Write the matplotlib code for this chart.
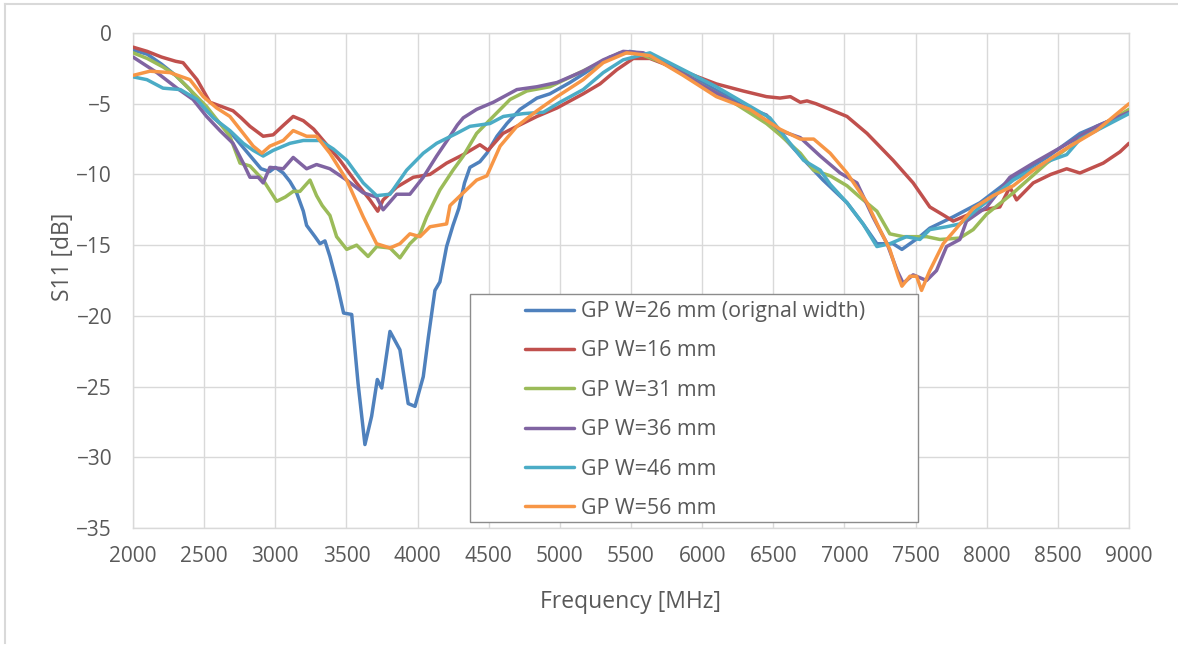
import matplotlib
matplotlib.use("Agg")
import matplotlib.pyplot as plt
from matplotlib.patches import Rectangle
from matplotlib.lines import Line2D

# ---------------- data ----------------
f_w26 = [2000, 2100, 2200, 2300, 2400, 2500, 2600, 2700, 2800, 2900, 2960, 3000, 3056, 3103, 3150,
         3197, 3220, 3279, 3314, 3349, 3384, 3431, 3480, 3537, 3582, 3630, 3677, 3717, 3748, 3806,
         3876, 3934, 3982, 4040, 4076, 4122, 4157, 4204, 4228, 4249, 4290, 4330, 4368, 4438, 4487, 4558,
         4628, 4720, 4839, 4930, 5071, 5211, 5352, 5492, 5633, 5865, 6000, 6200, 6400, 6547, 6737,
         6850, 7018, 7131, 7228, 7342, 7404, 7530, 7600, 7764, 7953, 8187, 8422, 8656, 9000]
s_w26 = [-1.2, -1.5, -2.2, -3.0, -4.0, -5.3, -6.3, -7.2, -8.4, -9.6, -9.8, -9.5, -9.9, -10.5, -11.3,
         -12.6, -13.6, -14.4, -14.9, -14.7, -15.8, -17.6, -19.8, -19.9, -24.8, -29.1, -27.1, -24.5, -25.1, -21.1,
         -22.4, -26.2, -26.4, -24.3, -21.5, -18.2, -17.6, -15.1, -14.3, -13.6, -12.4, -10.6, -9.5, -9.1, -8.5, -7.3,
         -6.4, -5.4, -4.6, -4.3, -3.5, -2.6, -1.7, -1.3, -1.6, -2.9, -3.5, -4.6, -5.9, -7.1, -9.2,
         -10.4, -12.0, -13.5, -14.9, -14.9, -15.3, -14.4, -13.8, -13.0, -12.0, -10.2, -8.8, -7.1, -5.6]

f_w16 = [2000, 2100, 2200, 2300, 2352, 2450, 2541, 2623, 2703, 2760, 2822, 2915, 2985, 3060, 3126,
         3197, 3270, 3337, 3454, 3571, 3665, 3720, 3758, 3853, 3970, 4087, 4204, 4321, 4438, 4495,
         4600, 4698, 4839, 4980, 5164, 5282, 5400, 5516, 5633, 5865, 6100, 6288, 6452, 6547, 6620,
         6690, 6737, 6800, 6898, 7018, 7159, 7342, 7483, 7600, 7700, 7764, 7858, 7974, 8092, 8163,
         8210, 8327, 8450, 8562, 8655, 8819, 8937, 9000]
s_w16 = [-1.0, -1.3, -1.7, -2.0, -2.1, -3.3, -4.9, -5.2, -5.5, -6.0, -6.6, -7.3, -7.2, -6.5, -5.9,
         -6.2, -6.8, -7.6, -9.0, -10.6, -11.8, -12.6, -11.8, -10.9, -10.2, -10.0, -9.2, -8.6, -7.9, -8.3,
         -7.1, -6.6, -5.9, -5.3, -4.3, -3.6, -2.6, -1.8, -1.8, -2.7, -3.6, -4.1, -4.5, -4.6, -4.5,
         -4.9, -4.8, -5.0, -5.4, -5.9, -7.1, -9.0, -10.6, -12.3, -12.9, -13.3, -12.9, -12.5, -12.3, -10.9,
         -11.8, -10.6, -10.0, -9.6, -9.9, -9.2, -8.4, -7.8]

f_w31 = [2000, 2100, 2211, 2300, 2400, 2517, 2611, 2681, 2752, 2822, 2915, 3010, 3070, 3126, 3173,
         3244, 3290, 3330, 3384, 3431, 3502, 3572, 3652, 3713, 3806, 3876, 3946, 4017, 4064, 4157,
         4249, 4321, 4415, 4532, 4650, 4768, 4930, 5118, 5282, 5422, 5540, 5725, 5984, 6218, 6452,
         6547, 6690, 6784, 6900, 7018, 7108, 7228, 7319, 7413, 7483, 7577, 7671, 7811, 7905, 8000,
         8187, 8422, 8656, 9000]
s_w31 = [-1.4, -1.8, -2.4, -3.0, -4.0, -5.2, -6.4, -7.3, -9.2, -9.4, -10.4, -11.9, -11.6, -11.2, -11.2,
         -10.4, -11.5, -12.2, -12.9, -14.4, -15.3, -15.0, -15.8, -15.1, -15.2, -15.9, -14.9, -14.2, -13.0, -11.1,
         -9.7, -8.7, -7.1, -5.9, -4.7, -4.1, -3.8, -2.9, -2.1, -1.4, -1.4, -2.1, -3.6, -4.9, -6.4,
         -7.2, -8.5, -9.7, -10.1, -10.8, -11.6, -12.6, -14.2, -14.4, -14.4, -14.4, -14.6, -14.5, -13.9, -12.8,
         -11.3, -9.2, -7.5, -5.4]

f_w36 = [2000, 2168, 2309, 2422, 2517, 2611, 2703, 2775, 2822, 2880, 2915, 2962, 3056, 3126, 3220,
         3290, 3384, 3502, 3618, 3712, 3758, 3853, 3946, 4040, 4134, 4228, 4280, 4321, 4415, 4532, 4698,
         4839, 4980, 5164, 5305, 5445, 5586, 5772, 6000, 6241, 6452, 6547, 6690, 6830, 6970, 7088,
         7200, 7300, 7370, 7413, 7483, 7577, 7647, 7718, 7811, 7858, 8000, 8163, 8327, 8537, 8772,
         9000]
s_w36 = [-1.7, -2.8, -3.9, -4.7, -5.9, -6.9, -7.8, -9.2, -10.2, -10.2, -10.6, -9.5, -9.6, -8.8, -9.6,
         -9.3, -9.6, -10.4, -11.3, -11.6, -12.5, -11.4, -11.4, -10.2, -8.7, -7.3, -6.5, -6.0, -5.4, -4.9, -4.0,
         -3.8, -3.5, -2.7, -1.9, -1.3, -1.4, -2.3, -3.7, -5.0, -5.8, -6.9, -7.4, -8.7, -9.9, -10.6,
         -13.0, -14.9, -16.8, -17.7, -17.1, -17.5, -16.8, -15.1, -14.6, -13.3, -12.3, -10.2, -9.2, -8.0, -6.6,
         -5.6]

f_w46 = [2000, 2098, 2211, 2333, 2450, 2564, 2681, 2775, 2845, 2915, 2985, 3103, 3197, 3314, 3408,
         3502, 3618, 3712, 3806, 3923, 4040, 4134, 4274, 4368, 4509, 4603, 4744, 4885, 5000, 5164,
         5305, 5445, 5633, 5867, 6100, 6288, 6476, 6547, 6713, 6830, 6900, 7018, 7131, 7228, 7319,
         7436, 7530, 7600, 7718, 7811, 7953, 8187, 8422, 8562, 8656, 9000]
s_w46 = [-3.1, -3.3, -3.9, -4.0, -4.7, -6.0, -6.9, -7.8, -8.3, -8.7, -8.3, -7.8, -7.6, -7.6, -8.2,
         -9.0, -10.6, -11.5, -11.4, -9.7, -8.5, -7.8, -7.1, -6.6, -6.4, -5.9, -5.7, -5.6, -4.9, -4.0,
         -2.8, -1.9, -1.4, -2.6, -3.8, -4.9, -6.0, -6.9, -9.0, -9.7, -10.7, -12.0, -13.5, -15.1, -14.9,
         -14.4, -14.6, -13.9, -13.7, -13.5, -12.3, -10.4, -9.1, -8.6, -7.5, -5.7]

f_w56 = [2000, 2119, 2260, 2400, 2494, 2588, 2681, 2775, 2845, 2906, 2962, 3056, 3126, 3220, 3290,
         3384, 3502, 3618, 3712, 3806, 3876, 3946, 4017, 4087, 4204, 4228, 4321, 4415, 4487, 4580,
         4698, 4839, 4980, 5164, 5305, 5469, 5633, 5867, 6100, 6335, 6547, 6690, 6784, 6900, 7018,
         7159, 7249, 7319, 7378, 7404, 7460, 7507, 7542, 7600, 7694, 7788, 7905, 8045, 8187, 8327,
         8537, 8772, 9000]
s_w56 = [-3.0, -2.7, -2.8, -3.3, -4.5, -5.3, -5.9, -7.1, -8.0, -8.5, -8.0, -7.6, -6.9, -7.3, -7.3,
         -8.5, -10.4, -13.0, -14.9, -15.2, -14.9, -14.2, -14.4, -13.7, -13.5, -12.2, -11.3, -10.4, -10.1, -8.0,
         -6.6, -5.5, -4.5, -3.3, -2.1, -1.4, -1.6, -3.0, -4.5, -5.4, -6.8, -7.5, -7.5, -8.5, -9.9,
         -12.0, -13.9, -15.3, -17.2, -17.9, -17.2, -17.2, -18.2, -16.8, -14.9, -13.8, -12.4, -11.5, -10.8, -9.7,
         -8.3, -6.9, -5.0]

labels = ["GP W=26 mm (orignal width)", "GP W=16 mm", "GP W=31 mm",
          "GP W=36 mm", "GP W=46 mm", "GP W=56 mm"]
colors = ["#4F81BD", "#C0504D", "#9BBB59", "#8064A2", "#4BACC6", "#F79646"]
xticks = [2000, 2500, 3000, 3500, 4000, 4500, 5000, 5500, 6000, 6500, 7000, 7500, 8000, 8500, 9000]
yticks = [0, -5, -10, -15, -20, -25, -30, -35]

series = [(f_w26, s_w26), (f_w16, s_w16), (f_w31, s_w31),
          (f_w36, s_w36), (f_w46, s_w46), (f_w56, s_w56)]

# ---------------- figure ----------------
plt.rcParams['font.family'] = ['Open Sans', 'DejaVu Sans']
txt = "#595959"
grid = "#D9D9D9"

W, H = 1178, 645
fig = plt.figure(figsize=(W / 100, H / 100), dpi=100)
ax = fig.add_axes([133 / W, 1 - 528 / H, (1129 - 133) / W, (528 - 33) / H])

# outer chart frame (top and left edges visible)
fig.add_artist(Line2D([5 / W, 1], [1 - 4 / H, 1 - 4 / H], color=grid, lw=1.5, transform=fig.transFigure))
fig.add_artist(Line2D([5 / W, 5 / W], [1 - 4 / H, 1 - 643 / H], color=grid, lw=1.5, transform=fig.transFigure))

handles = []
for (f, s), lab, c in zip(series, labels, colors):
    h, = ax.plot(f, s, color=c, lw=2.5, label=lab, solid_joinstyle='round',
                 solid_capstyle='round', zorder=3)
    handles.append(h)

ax.set_xlim(2000, 9000)
ax.set_ylim(-35, 0)
ax.set_xticks(xticks)
ax.set_yticks(yticks)
ax.grid(True, color=grid, lw=1)
ax.set_axisbelow(True)
for sp in ax.spines.values():
    sp.set_color(grid)
    sp.set_linewidth(1)
ax.tick_params(length=0, labelsize=15, labelcolor=txt)
ax.tick_params(axis='y', pad=15)
ax.tick_params(axis='x', pad=13)

ax.set_xlabel("Frequency [MHz]", fontsize=16.5, color=txt)
ax.set_ylabel("S11 [dB]", fontsize=16.5, color=txt)
ax.xaxis.set_label_coords(0.5, -0.125)
ax.yaxis.set_label_coords(-0.058, 0.547)

# legend box
x0 = (470 - 133) / 996
y0 = (528 - 522) / 495
bw = (918 - 470) / 996
bh = (522 - 294) / 495
ax.add_patch(Rectangle((x0, y0), bw, bh, transform=ax.transAxes, facecolor='white',
                       edgecolor='#8C8C8C', lw=1, zorder=5))
leg = ax.legend(handles=handles, loc='upper left',
                bbox_to_anchor=((525 - 133) / 996, (528 - 301) / 495),
                frameon=False, fontsize=15.4, labelcolor=txt, handlelength=2.3,
                handletextpad=0.3, labelspacing=0.86, borderpad=0, borderaxespad=0)
leg.set_zorder(6)

fig.savefig("out.png", dpi=100)
